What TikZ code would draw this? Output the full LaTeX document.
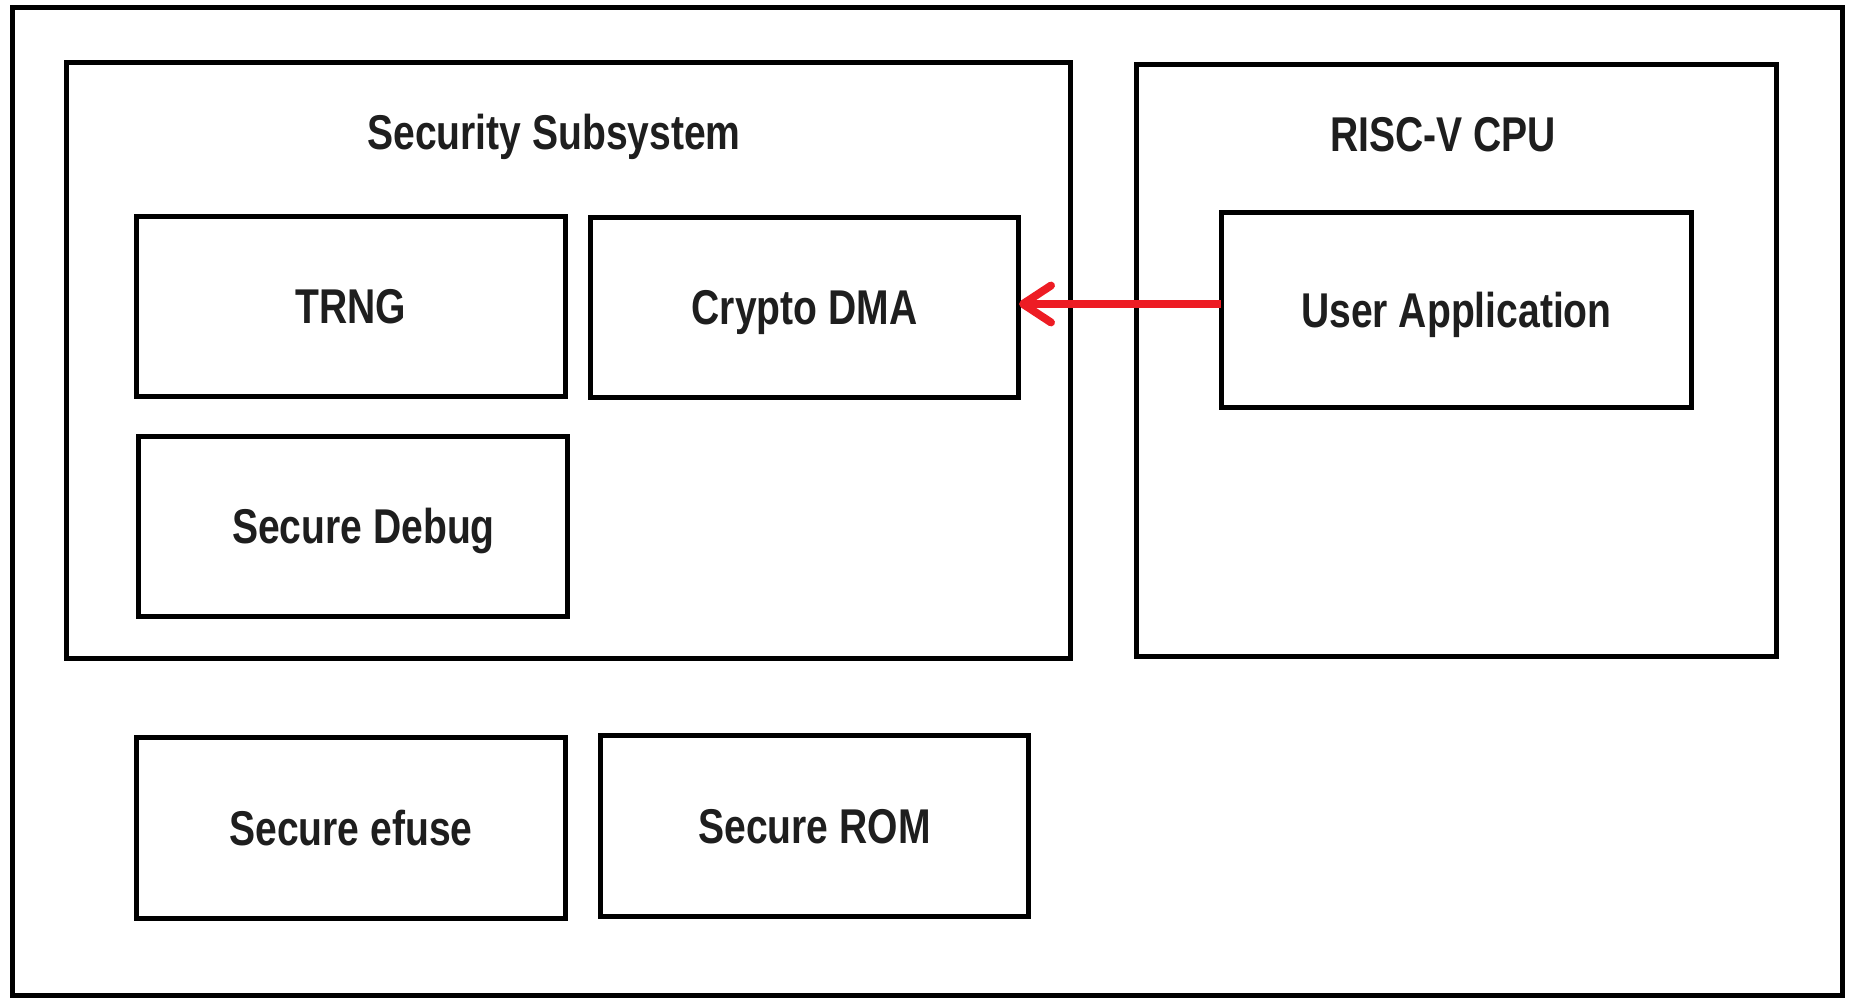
\documentclass[tikz,border=0pt]{standalone}
\usepackage{fontspec}
\setmainfont{Liberation Sans}[FakeStretch=0.8]
\usetikzlibrary{arrows.meta}
\definecolor{arrowred}{HTML}{ED1C24}
\definecolor{ink}{HTML}{1E1E1E}
\newcommand{\blockfont}{\fontsize{27.8pt}{33pt}\selectfont\bfseries}
\begin{document}
\begin{tikzpicture}[x=0.02cm,y=-0.02cm,line width=2.85pt,
    grp/.style={draw,line join=miter},
    box/.style={draw,rectangle,outer sep=0pt,inner sep=0pt,
      minimum width=8.6cm,minimum height=3.62cm,
      font=\blockfont,text=ink,text height=19.9pt,text depth=0pt},
    ttl/.style={anchor=base,font=\blockfont,text=ink},
    req/.style={draw=arrowred,line width=4.5pt,
      -{Straight Barb[length=16pt,width=21pt,line cap=round,line join=round]}}]
  \useasboundingbox (0,0) rectangle (1852,1003);
  \draw[grp] (12.5,7.5) coordinate (chipnw) rectangle (1842,995) coordinate (chipse);
  % security subsystem
  \draw[grp] (66.5,62.5) coordinate (SSnw) rectangle (1070,658) coordinate (SSse);
  \node[ttl] (SSt) at (554,150) {Security Subsystem};
  \node[box] (TRNG) at (351,306.5) {TRNG};
  \node[box,minimum width=8.58cm] (DMA) at (804.5,307.5) {Crypto DMA};
  \node[box] (SD) at (353,526.5) {\hspace{12pt}Secure Debug};
  % cpu
  \draw[grp] (1136,65) coordinate (CPUnw) rectangle (1776,656) coordinate (CPUse);
  \node[ttl] (CPUt) at (1443,152) {RISC-V CPU};
  \node[box,minimum width=9.42cm,minimum height=3.92cm] (UA) at (1456.5,310) {User Application};
  % outside both
  \node[box,minimum height=3.64cm] (EF) at (351,828) {Secure efuse};
  \node[box,minimum width=8.58cm,minimum height=3.64cm] (ROM) at (814.5,826) {Secure ROM};
  \coordinate (uaout) at (UA.west |- 0,304);
  \draw[req] (uaout) -- (uaout -| DMA.east);
\end{tikzpicture}
\end{document}
